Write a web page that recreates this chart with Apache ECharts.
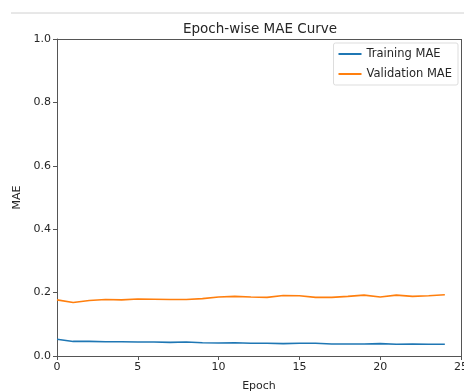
<!DOCTYPE html>
<html><head><meta charset="utf-8">
<script src="https://cdn.jsdelivr.net/npm/echarts@6/dist/echarts.min.js"></script>
<style>html,body{margin:0;padding:0;background:#fff}#c{width:464px;height:391px}</style>
</head><body><div id="c"></div>
<script>
const epochs = [0,1,2,3,4,5,6,7,8,9,10,11,12,13,14,15,16,17,18,19,20,21,22,23,24];
const trainMAE = [0.053,0.046,0.046,0.045,0.045,0.044,0.044,0.043,0.044,0.042,0.041,0.042,0.040,0.040,0.039,0.040,0.040,0.038,0.038,0.038,0.039,0.037,0.038,0.037,0.037];
const valMAE = [0.177,0.169,0.175,0.178,0.177,0.180,0.179,0.178,0.178,0.181,0.186,0.188,0.186,0.185,0.191,0.190,0.185,0.185,0.188,0.192,0.186,0.192,0.188,0.190,0.193];
const xTicks = [0,5,10,15,20,25];
const yTicks = [0.0,0.2,0.4,0.6,0.8,1.0];
const font = 'DejaVu Sans';
const chart = echarts.init(document.getElementById('c'), null, {renderer:'canvas'});
chart.setOption({
  animation:false,
  backgroundColor:'#fff',
  title:{text:'Epoch-wise MAE Curve', left:255, top:17, textAlign:'center',
    textStyle:{fontFamily:font, fontSize:13.5, fontWeight:'normal', color:'#262626'}},
  graphic:[{type:'line', shape:{x1:11,y1:13,x2:464,y2:13}, style:{stroke:'#d0d0d0', lineWidth:1}}],
  legend:{right:6, top:43, orient:'vertical', itemWidth:23, itemHeight:2, itemGap:8,
    padding:[5,6,5,5], borderColor:'#dddddd', borderWidth:1, borderRadius:2,
    icon:'rect', textStyle:{fontFamily:font, fontSize:11.5, color:'#262626'},
    data:['Training MAE','Validation MAE']},
  grid:{left:57, right:3, top:39, bottom:35, containLabel:false, outerBoundsMode:'none'},
  xAxis:{type:'value', min:xTicks[0], max:xTicks[xTicks.length-1], interval:5,
    name:'Epoch', nameLocation:'middle', nameGap:25,
    nameTextStyle:{fontFamily:font, fontSize:11, color:'#262626'},
    axisLine:{onZero:false, lineStyle:{color:'#555', width:1}},
    axisTick:{show:true, length:4, lineStyle:{color:'#555'}},
    axisLabel:{fontFamily:font, fontSize:11, color:'#262626', margin:6},
    splitLine:{show:false}},
  yAxis:{type:'value', min:0, max:1, interval:0.2,
    name:'MAE', nameLocation:'middle', nameGap:28,
    nameTextStyle:{fontFamily:font, fontSize:11, color:'#262626'},
    axisLine:{show:true, lineStyle:{color:'#555', width:1}},
    axisTick:{show:true, length:4, lineStyle:{color:'#555'}},
    axisLabel:{fontFamily:font, fontSize:11, color:'#262626', margin:6, formatter:v=>v.toFixed(1)},
    splitLine:{show:false}},
  series:[
    {name:'Training MAE', type:'line', data:epochs.map((e,i)=>[e,trainMAE[i]]), showSymbol:false,
      lineStyle:{color:'#1f77b4', width:1.6}, itemStyle:{color:'#1f77b4'}},
    {name:'Validation MAE', type:'line', data:epochs.map((e,i)=>[e,valMAE[i]]), showSymbol:false,
      lineStyle:{color:'#ff7f0e', width:1.6}, itemStyle:{color:'#ff7f0e'}},
    {type:'line', data:[], markLine:{silent:true, symbol:'none', label:{show:false},
      lineStyle:{color:'#555', type:'solid', width:1},
      data:[[{coord:[25,0]},{coord:[25,1]}],[{coord:[0,1]},{coord:[25,1]}]]}}
  ]
});
</script></body></html>
